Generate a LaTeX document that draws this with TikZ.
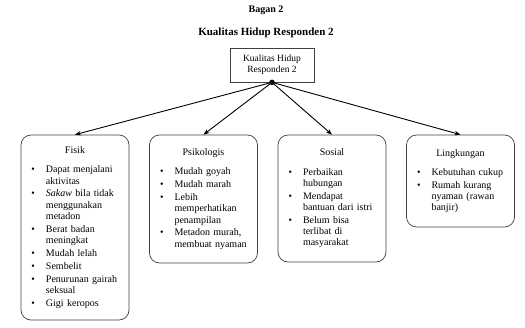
\documentclass[tikz,border=0pt]{standalone}
\usepackage{fontspec}
\setmainfont{Liberation Serif}
\usepackage{enumitem}
\usetikzlibrary{positioning,arrows.meta}

\setlist[itemize]{label=\textbullet, leftmargin=16pt, labelsep=11pt,
  topsep=8pt, itemsep=1.5pt, parsep=0pt, partopsep=0pt}

\tikzset{
  aspek/.style={draw=black!75, line width=0.7pt, rounded corners=10pt,
    text width=90pt, inner xsep=9pt, inner ysep=4pt,
    font=\fontsize{10}{11.3}\selectfont},
  panah/.style={black, line width=0.9pt, -{Stealth[length=6pt,width=4.5pt]}}
}

\begin{document}
\begin{tikzpicture}[x=1pt,y=-1pt]
	\useasboundingbox (0,0) rectangle (525,327);

	\node[font=\bfseries\fontsize{10}{12}\selectfont] (bagan) at (266,10) {Bagan 2};
	\node[font=\bfseries\fontsize{11}{13}\selectfont] (judul) at (266,33) {Kualitas Hidup Responden 2};

	\node[draw=black!75, line width=0.7pt, minimum width=84pt, minimum height=34pt,
		align=center, font=\fontsize{9.5}{11}\selectfont] (utama) at (272,65) {Kualitas Hidup\\Responden 2};
	\fill (utama.south) circle (2.8pt);

	\node[aspek, minimum height=185pt] (fisik) at (75,227.5) {%
		{\centering Fisik\par}
		\begin{itemize}
			\item Dapat menjalani\newline aktivitas
			\item \textit{Sakaw} bila tidak\newline menggunakan\newline metadon
			\item Berat badan\newline meningkat
			\item Mudah lelah
			\item Sembelit
			\item Penurunan gairah\newline seksual
			\item Gigi keropos
		\end{itemize}};
	\node[aspek, minimum height=128pt] (psikologis) at (203.5,199) {%
		{\centering Psikologis\par}
		\begin{itemize}
			\item Mudah goyah
			\item Mudah marah
			\item Lebih\newline memperhatikan\newline penampilan
			\item Metadon murah,\newline membuat nyaman
		\end{itemize}};
	\node[aspek, minimum height=127pt] (sosial) at (332,198.5) {%
		{\centering Sosial\par}
		\begin{itemize}
			\item Perbaikan\newline hubungan
			\item Mendapat\newline bantuan dari istri
			\item Belum bisa\newline terlibat di\newline masyarakat
		\end{itemize}};
	\node[aspek, minimum height=92pt] (lingkungan) at (460.5,181) {%
		{\centering Lingkungan\par}
		\begin{itemize}
			\item Kebutuhan cukup
			\item Rumah kurang\newline nyaman (rawan\newline banjir)
		\end{itemize}};

	\foreach \x in {fisik,psikologis,sosial,lingkungan}
		\draw[panah] (utama.south) -- (\x.north);
\end{tikzpicture}
\end{document}
